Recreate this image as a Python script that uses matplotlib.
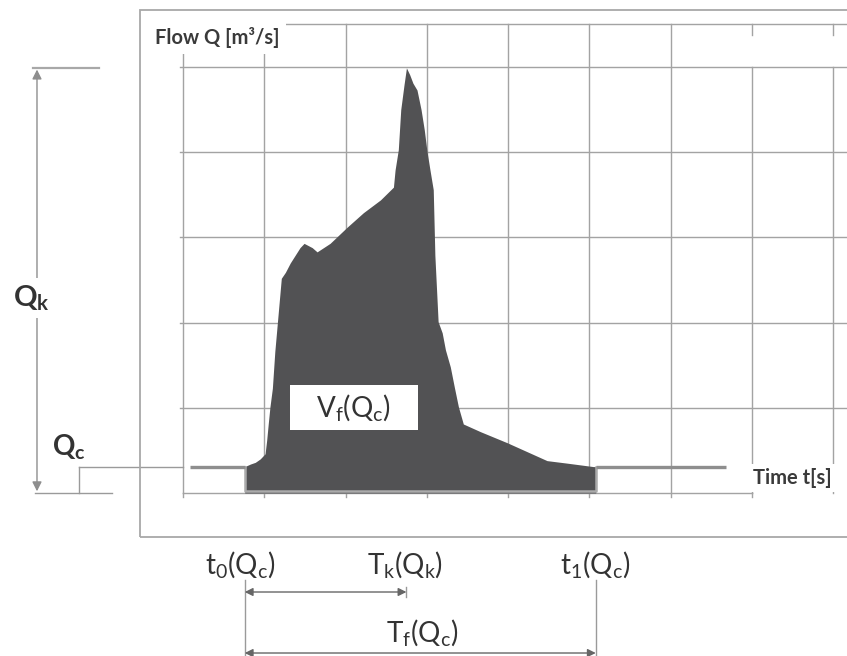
import matplotlib
matplotlib.use("Agg")
import matplotlib.pyplot as plt
import numpy as np

plt.rcParams['font.family'] = ['Lato', 'DejaVu Sans']
plt.rcParams['mathtext.fontset'] = 'custom'
plt.rcParams['mathtext.rm'] = 'Lato'
plt.rcParams['mathtext.it'] = 'Lato:italic'
plt.rcParams['mathtext.bf'] = 'Lato:bold'

# hydrograph (grid units)
time_vals = [0.76, 0.83, 0.89, 0.95, 1.01, 1.03, 1.05, 1.07, 1.10, 1.13, 1.17, 1.21,
             1.26, 1.32, 1.38, 1.44, 1.49, 1.59, 1.65, 1.81, 2.02, 2.22, 2.43, 2.59,
             2.61, 2.65, 2.68, 2.72, 2.75, 2.79, 2.83, 2.88, 2.93, 2.97, 3.00, 3.04,
             3.08, 3.10, 3.14, 3.19, 3.23, 3.29, 3.34, 3.39, 3.45, 3.66, 3.99, 4.27,
             4.48, 4.73, 5.05, 5.08]
flow_vals = [0.31, 0.34, 0.36, 0.40, 0.46, 0.62, 0.82, 1.01, 1.23, 1.66, 2.09, 2.52,
             2.59, 2.70, 2.79, 2.88, 2.93, 2.88, 2.83, 2.93, 3.12, 3.29, 3.44, 3.59,
             3.79, 4.03, 4.50, 4.79, 4.99, 4.91, 4.81, 4.73, 4.50, 4.26, 4.03, 3.79,
             3.56, 2.79, 2.01, 1.88, 1.68, 1.48, 1.24, 1.01, 0.81, 0.72, 0.59, 0.47,
             0.38, 0.35, 0.31, 0.31]
q_c = 0.31
t_0 = time_vals[0]
t_1 = time_vals[-1]
q_k = max(flow_vals)
t_k = time_vals[flow_vals.index(q_k)]

grid_x = [0, 1, 2, 3, 4, 5, 6, 7, 8]
grid_y = [1, 2, 3, 4, 5]

GRID = '#a3a3a3'
DARK = '#333333'

fig = plt.figure(figsize=(8.47, 6.56), dpi=100)
# outer chart frame
fig.add_artist(plt.Rectangle((140 / 847, 1 - 537 / 656), 0.9, (537 - 10) / 656,
                             fill=False, edgecolor='#a8a8a8', lw=1.3))
ax = fig.add_axes([183 / 847, 1 - 493 / 656, (847 - 183) / 847, (493 - 24.4) / 656])
ax.set_xlim(0, 664 / 81.25)
ax.set_ylim(0, 5.5)
ax.axis('off')

kw = dict(color=GRID, lw=1.0, clip_on=False, zorder=1)
for gx in grid_x:
    if gx <= 6:
        ax.plot([gx, gx], [0, 5.5], **kw)
    else:
        ax.plot([gx, gx], [0, 5], **kw)
        ax.plot([gx, gx], [5.38, 5.5], **kw)
    if gx <= 7:
        ax.plot([gx, gx], [-0.05, 0], **kw)
for gy in grid_y:
    ax.plot([-0.04, 8.2], [gy, gy], **kw)
ax.plot([0, 8.2], [5.5, 5.5], **kw)
ax.plot([0, 7], [0, 0], **kw)

# volume above threshold
ax.fill_between(time_vals, 0, flow_vals, color='#525254', lw=0, zorder=2)
ax.plot([t_0, t_0, t_1, t_1], [q_c, 0.02, 0.02, q_c], color='#ababab', lw=1.8, zorder=3)
# threshold level Qc
ax.plot([0.09, t_0], [q_c, q_c], color='#8e8e8e', lw=2.4, zorder=3, solid_capstyle='butt')
ax.plot([t_1, 6.68], [q_c, q_c], color='#8e8e8e', lw=2.4, zorder=3, solid_capstyle='butt')

# left dimension lines
lk = dict(color='#9a9a9a', lw=1.0, clip_on=False)
ax.plot([-1.85, -1.03], [q_k, q_k], color='#a8a8a8', lw=1.6, clip_on=False)
ax.plot([-1.82, -0.87], [0, 0], **lk)
ax.plot([-1.28, -1.28], [0, q_c], **lk)
ax.plot([-1.28, 0], [q_c, q_c], **lk)
ax.annotate('', xy=(-1.797, q_k - 0.02), xytext=(-1.797, 0.02), annotation_clip=False,
            arrowprops=dict(arrowstyle='<|-|>', color='#8e8e8e', lw=1.0,
                            mutation_scale=14, shrinkA=0, shrinkB=0))
ax.text(-1.87, 2.29, r'$\mathbf{Q_k}$', fontsize=21, color=DARK, ha='center', va='center',
        bbox=dict(facecolor='white', edgecolor='none', pad=4))
ax.text(-1.40, 0.54, r'$\mathbf{Q_c}$', fontsize=20, color=DARK, ha='center', va='center')

# bottom dimension lines
y_tk = -1.162
y_tf = -1.878
ax.plot([t_0, t_0], [-1.02, -1.915], **lk)
ax.plot([t_1, t_1], [-1.02, -1.915], **lk)
ax.plot([t_k, t_k], [y_tk - 0.06, y_tk + 0.06], **lk)
ax.annotate('', xy=(t_k, y_tk), xytext=(t_0, y_tk), annotation_clip=False,
            arrowprops=dict(arrowstyle='<|-|>', color='#666666', lw=1.0,
                            mutation_scale=12, shrinkA=0, shrinkB=0))
ax.annotate('', xy=(t_1, y_tf), xytext=(t_0, y_tf), annotation_clip=False,
            arrowprops=dict(arrowstyle='<|-|>', color='#666666', lw=1.0,
                            mutation_scale=12, shrinkA=0, shrinkB=0))
big = dict(fontsize=20, color=DARK, ha='center', va='center')
ax.text(0.70, -0.845, r'$\mathrm{t_0(Q_c)}$', **big)
ax.text(t_k - 0.02, -0.845, r'$\mathrm{T_k(Q_k)}$', **big)
ax.text(5.07, -0.845, r'$\mathrm{t_1(Q_c)}$', **big)
ax.text(2.94, -1.643, r'$\mathrm{T_f(Q_c)}$', **big)

# volume label on a white box
ax.add_patch(plt.Rectangle((1.317, 0.739), 1.575, 0.529, facecolor='white',
                           edgecolor='none', zorder=4))
ax.text(2.10, 1.0, r'$\mathrm{V_f(Q_c)}$', fontsize=20, color=DARK, ha='center',
        va='center', zorder=5)

# axis titles
ax.text(-0.345, 5.35, 'Flow Q [m³/s]', fontsize=14.5, fontweight='bold', color='#3a3a3a',
        ha='left', va='center', zorder=5,
        bbox=dict(facecolor='white', edgecolor='none', boxstyle='square,pad=0.3'))
ax.text(7.02, 0.176, 'Time t[s]', fontsize=14.5, fontweight='bold', color='#3a3a3a',
        ha='left', va='center', zorder=5,
        bbox=dict(facecolor='white', edgecolor='none', boxstyle='square,pad=0.2'))

fig.savefig('out.png', dpi=100)
